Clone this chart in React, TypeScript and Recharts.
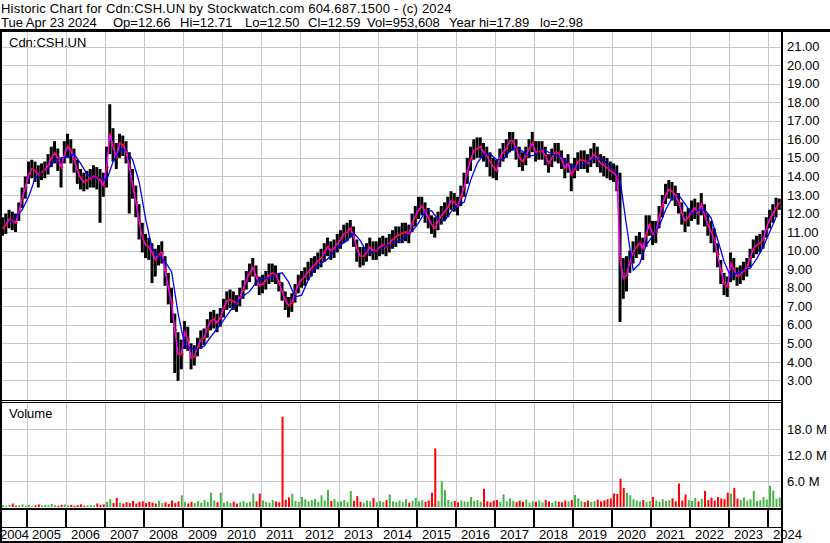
import React from 'react';
import { ComposedChart, Bar, Line, Scatter, XAxis, YAxis, Cell } from 'recharts';

const FONT = '"Liberation Sans", Arial, Helvetica, sans-serif';

// ---------- text ----------
const titleText = 'Historic Chart for Cdn:CSH.UN by Stockwatch.com 604.687.1500 - (c) 2024';
const quoteFields = ['Tue Apr 23 2024', 'Op=12.66', 'Hi=12.71', 'Lo=12.50', 'Cl=12.59', 'Vol=953,608', 'Year hi=17.89', 'lo=2.98'];
const quoteFieldX = [1, 113, 180, 245, 308, 367, 449, 540];
const tickerLabel = 'Cdn:CSH.UN';
const volumeLabel = 'Volume';

// ---------- categories ----------
const yearLabels = ['2004', '2005', '2006', '2007', '2008', '2009', '2010', '2011', '2012', '2013', '2014', '2015', '2016', '2017', '2018', '2019', '2020', '2021', '2022', '2023', '2024'];
const startYear = 2004;
const startMonth = 5; // first monthly bar: May 2004

// ---------- monthly price data (May 2004 .. Apr 2024) ----------
const priceClose = [
  11.2, 11.4, 11.7, 11.6, 11.5, 12.1, 12.8, 13.4,
  14.1, 14.4, 14.3, 14.1, 14.25, 14.35, 14.6, 15.0, 15.25, 15.0, 14.5, 15.2,
  15.6, 15.4, 14.9, 14.3, 13.9, 13.7, 13.8, 13.9, 14.0, 13.9, 13.8, 13.5,
  14.5, 16.3, 15.6, 15.0, 15.8, 15.7, 15.3, 14.5, 13.5, 12.6, 11.6, 10.7,
  10.3, 10.2, 9.9, 9.5, 9.8, 9.9, 8.9, 8.0, 7.2, 5.7, 4.4, 4.4,
  5.6, 5.2, 4.2, 4.3, 4.8, 5.2, 5.3, 5.8, 6.2, 6.3, 6.1, 6.4,
  6.9, 7.3, 7.35, 7.25, 7.15, 7.5, 7.9, 8.4, 8.8, 9.1, 8.6, 8.1,
  8.2, 8.4, 8.7, 8.8, 8.7, 8.3, 7.8, 7.3, 7.05, 7.2, 7.7, 8.2,
  8.45, 8.6, 8.85, 9.05, 9.25, 9.45, 9.6, 9.9, 10.2, 10.0, 10.1, 10.4,
  10.6, 10.9, 11.0, 11.2, 10.8, 10.1, 9.7, 9.7, 9.9, 10.2, 10.0, 10.0,
  10.2, 10.3, 10.2, 10.4, 10.6, 10.75, 10.85, 10.95, 11.0, 10.9, 11.5, 11.85,
  12.2, 12.4, 12.1, 11.75, 11.4, 11.2, 11.6, 11.9, 12.1, 12.35, 12.7, 12.6,
  12.4, 12.9, 13.4, 14.3, 14.9, 15.4, 15.5, 15.6, 15.3, 15.1, 14.8, 14.5,
  14.3, 15.0, 15.3, 15.5, 15.9, 15.9, 15.5, 15.0, 14.8, 15.1, 15.5, 15.8,
  15.3, 15.35, 15.4, 15.1, 14.7, 15.0, 15.3, 15.25, 14.9, 14.45, 14.7, 14.1,
  14.4, 14.8, 14.9, 14.85, 14.7, 15.0, 15.2, 15.0, 14.7, 14.6, 14.45, 14.3,
  14.2, 14.0, 9.5, 8.5, 8.7, 9.4, 9.9, 10.2, 10.4, 10.1, 10.9, 11.4,
  10.9, 11.0, 11.8, 12.4, 13.0, 13.3, 13.2, 13.0, 12.6, 12.0, 11.6, 11.8,
  12.1, 12.3, 12.0, 12.5, 11.9, 11.4, 11.0, 10.6, 9.8, 8.9, 8.2, 8.05,
  9.3, 9.0, 8.6, 8.7, 8.9, 9.1, 9.6, 10.1, 10.3, 10.4, 10.6, 11.2,
  11.7, 12.0, 12.3, 12.59,
];

const priceHigh = [
  11.8, 12.0, 12.2, 12.1, 12.0, 12.6, 13.4, 14.0,
  14.8, 14.9, 14.8, 14.6, 14.7, 14.8, 15.2, 15.6, 15.9, 15.5, 15.0, 15.9,
  16.3, 16.0, 15.5, 14.9, 14.4, 14.2, 14.3, 14.4, 14.6, 14.5, 14.4, 14.2,
  15.6, 17.89, 16.6, 15.8, 16.3, 16.2, 15.9, 15.3, 14.4, 13.5, 12.5, 11.5,
  10.9, 10.7, 10.4, 10.1, 10.3, 10.5, 9.7, 8.8, 8.0, 6.6, 5.6, 5.2,
  6.2, 5.9, 5.0, 4.9, 5.3, 5.7, 5.8, 6.3, 6.7, 6.8, 6.6, 6.9,
  7.4, 7.8, 7.9, 7.8, 7.6, 8.0, 8.4, 8.9, 9.3, 9.6, 9.2, 8.6,
  8.7, 8.9, 9.3, 9.3, 9.2, 8.8, 8.3, 7.8, 7.5, 7.7, 8.2, 8.7,
  8.9, 9.1, 9.4, 9.6, 9.7, 9.9, 10.1, 10.4, 10.7, 10.5, 10.6, 10.9,
  11.1, 11.4, 11.5, 11.65, 11.3, 10.6, 10.2, 10.2, 10.4, 10.7, 10.5, 10.5,
  10.7, 10.8, 10.7, 10.9, 11.1, 11.3, 11.3, 11.5, 11.5, 11.4, 12.0, 12.4,
  12.9, 12.9, 12.6, 12.3, 11.9, 11.8, 12.1, 12.4, 12.6, 12.9, 13.2, 13.1,
  12.9, 13.5, 14.2, 15.0, 15.6, 16.0, 16.1, 16.1, 15.8, 15.6, 15.3, 15.0,
  14.9, 15.5, 15.8, 16.0, 16.4, 16.4, 16.0, 15.6, 15.3, 15.6, 16.0, 16.4,
  15.9, 15.9, 15.9, 15.6, 15.2, 15.5, 15.8, 15.8, 15.4, 15.0, 15.2, 14.7,
  15.0, 15.3, 15.4, 15.4, 15.2, 15.5, 15.8, 15.6, 15.2, 15.1, 15.0, 14.8,
  14.7, 14.6, 14.2, 9.6, 9.7, 10.0, 10.5, 10.8, 11.0, 10.7, 11.9, 11.9,
  11.6, 11.6, 12.4, 13.0, 13.6, 13.8, 13.7, 13.5, 13.1, 12.6, 12.1, 12.3,
  12.7, 12.8, 12.6, 13.1, 12.5, 12.0, 11.6, 11.2, 10.4, 9.5, 8.8, 8.6,
  9.9, 9.6, 9.1, 9.2, 9.4, 9.6, 10.1, 10.6, 10.8, 10.9, 11.1, 11.8,
  12.2, 12.5, 12.85, 12.8,
];

const priceLow = [
  10.8, 10.9, 11.2, 11.1, 11.0, 11.6, 12.3, 12.8,
  13.6, 13.9, 13.7, 13.4, 13.8, 13.9, 14.1, 14.5, 14.7, 14.3, 13.4, 14.7,
  15.0, 14.7, 14.2, 13.6, 13.3, 13.2, 13.3, 13.4, 13.4, 13.3, 11.5, 12.9,
  13.4, 15.2, 14.8, 14.4, 15.0, 15.1, 14.7, 12.0, 12.8, 11.8, 10.6, 9.9,
  9.6, 9.5, 8.25, 8.6, 9.2, 9.3, 8.1, 7.1, 6.1, 3.4, 2.98, 3.6,
  4.7, 4.6, 3.6, 3.8, 4.3, 4.7, 4.9, 5.3, 5.7, 5.8, 5.6, 5.9,
  6.4, 6.8, 6.9, 6.8, 6.7, 7.0, 7.4, 7.9, 8.3, 8.6, 8.1, 7.6,
  7.7, 7.9, 8.2, 8.3, 8.2, 7.8, 7.3, 6.8, 6.4, 6.7, 7.2, 7.7,
  8.0, 8.1, 8.4, 8.6, 8.8, 9.0, 9.1, 9.4, 9.7, 9.5, 9.6, 9.9,
  10.1, 10.4, 10.5, 10.7, 10.2, 9.4, 9.1, 9.2, 9.4, 9.7, 9.5, 9.5,
  9.7, 9.8, 9.7, 9.9, 10.1, 10.2, 10.4, 10.4, 10.5, 10.4, 11.0, 11.3,
  11.7, 11.9, 11.5, 11.2, 10.9, 10.7, 11.1, 11.4, 11.6, 11.8, 12.2, 12.1,
  11.9, 12.4, 12.9, 13.6, 14.3, 14.9, 15.0, 15.0, 14.8, 14.5, 14.0, 13.9,
  13.8, 14.5, 14.8, 15.0, 15.3, 15.4, 14.9, 14.5, 14.3, 14.6, 15.0, 15.3,
  14.8, 14.9, 14.9, 14.6, 14.2, 14.5, 14.8, 14.7, 14.4, 13.9, 14.2, 13.2,
  13.9, 14.3, 14.4, 14.4, 14.2, 14.5, 14.7, 14.5, 14.2, 14.0, 13.9, 13.8,
  13.7, 13.2, 6.15, 7.4, 7.8, 8.8, 9.3, 9.6, 9.8, 9.5, 10.2, 10.8,
  10.3, 10.4, 11.2, 11.8, 12.5, 12.8, 12.7, 12.4, 12.0, 11.4, 11.0, 11.3,
  11.6, 11.7, 11.4, 11.9, 11.3, 10.8, 10.4, 9.9, 9.1, 8.2, 7.6, 7.5,
  8.3, 8.4, 8.1, 8.2, 8.4, 8.6, 9.1, 9.6, 9.8, 9.9, 10.1, 10.7,
  11.2, 11.5, 11.8, 12.2,
];

// long moving average, read every second month (null = not yet started)
const longAvg = [
  null, 11.5, 11.8, 12.2, 12.9, 13.9, 14.25, 14.4, 14.85, 15.0,
  15.05, 15.2, 14.7, 14.1, 13.9, 13.9, 13.8, 14.8, 15.4, 15.4,
  14.9, 13.7, 11.7, 10.1, 9.7, 9.4, 8.85, 6.6, 4.9, 4.7,
  4.7, 4.85, 5.35, 5.8, 6.25, 6.75, 7.2, 7.55, 7.8, 8.3,
  8.5, 8.5, 8.7, 8.8, 8.3, 7.5, 7.6, 8.4, 9.0, 9.3,
  9.55, 9.95, 10.3, 10.55, 10.95, 10.55, 9.95, 9.9, 10.1, 10.25,
  10.4, 10.5, 10.75, 11.05, 11.5, 12.1, 12.15, 11.65, 11.6, 12.1,
  12.45, 12.6, 13.8, 14.7, 15.2, 15.2, 14.9, 14.9, 15.35, 15.55,
  15.35, 15.1, 15.15, 15.5, 15.3, 15.15, 15.05, 14.7, 14.5, 14.55,
  14.8, 14.95, 14.95, 14.7, 14.4, 13.8, 11.3, 8.95, 9.3, 10.3,
  10.8, 11.3, 12.2, 12.85, 13.0, 12.5, 12.0, 12.15, 12.2, 11.75,
  10.6, 9.4, 8.6, 8.8, 8.95, 9.05, 9.55, 10.2, 11.0, 11.8,
];

// monthly volume, millions of shares
const volumeM = [
  0.4, 0.3, 0.5, 0.8, 0.3, 0.4, 0.6, 0.3,
  0.5, 0.3, 0.4, 0.6, 0.3, 0.5, 0.4, 0.7, 0.4, 0.3, 0.5, 0.6,
  0.4, 0.5, 0.3, 0.4, 0.6, 0.3, 0.4, 0.5, 0.3, 0.8, 0.5, 0.6,
  1.2, 1.8, 0.9, 2.1, 1.0, 0.8, 1.1, 0.9, 1.4, 0.8, 1.2, 1.3,
  0.9, 1.2, 1.0, 0.8, 1.4, 0.9, 1.1, 0.7, 1.5, 0.9, 1.3, 2.7,
  1.1, 0.8, 1.2, 0.9, 1.4, 1.0, 1.6, 1.2, 3.3, 1.5, 1.1, 3.3,
  1.0, 1.3, 0.9, 1.2, 0.8, 1.1, 1.4, 1.0, 1.2, 3.1, 1.3, 3.1,
  1.5, 1.2, 1.0, 1.6, 1.3, 1.1, 20.8, 1.7, 2.2, 3.1, 1.4, 1.2,
  2.3, 1.8, 1.3, 1.6, 1.9, 1.2, 2.7, 1.5, 3.9, 1.4, 1.8, 1.2,
  1.3, 1.6, 1.1, 3.7, 1.4, 2.5, 1.2, 1.0, 1.5, 1.3, 2.1, 1.1,
  1.4, 1.2, 1.6, 2.9, 1.3, 1.1, 1.5, 1.2, 1.8, 1.0, 1.4, 2.1,
  1.3, 1.6, 1.2, 1.5, 3.3, 13.5, 1.4, 5.9, 3.9, 1.6, 1.2, 1.4,
  1.1, 1.5, 1.3, 1.2, 2.3, 1.4, 1.6, 1.2, 4.2, 1.3, 1.1, 1.5,
  1.6, 1.2, 2.9, 1.3, 2.0, 1.4, 1.1, 1.5, 1.2, 1.7, 1.0, 1.3,
  1.2, 1.5, 1.1, 1.6, 1.3, 1.0, 1.4, 1.2, 1.1, 1.5, 1.3, 1.6,
  2.8, 2.0, 1.3, 1.1, 1.5, 1.2, 1.4, 1.7, 1.3, 1.5, 1.8, 2.0,
  3.1, 3.0, 6.5, 4.4, 3.3, 2.7, 1.8, 1.5, 1.3, 1.6, 1.2, 1.4,
  2.3, 1.5, 1.2, 1.8, 1.4, 1.6, 2.0, 1.3, 5.4, 1.5, 2.9, 1.6,
  1.4, 2.1, 1.3, 1.9, 3.7, 1.6, 2.2, 1.5, 2.3, 2.0, 1.8, 3.3,
  3.1, 4.4, 1.9, 1.6, 2.2, 1.5, 1.8, 3.7, 1.4, 1.6, 2.3, 1.7,
  4.9, 3.8, 1.9, 2.2,
];

const priceTicks = [3, 4, 5, 6, 7, 8, 9, 10, 11, 12, 13, 14, 15, 16, 17, 18, 19, 20, 21];
const volumeTicks = [6, 12, 18];

// ---------- derived tables ----------
const rows = priceClose.map((close, i) => {
  const t = startMonth - 1 + i;
  return {
    m: i,
    month: `${startYear + Math.floor(t / 12)}-${String((t % 12) + 1).padStart(2, '0')}`,
    close,
    range: [priceLow[i], priceHigh[i]],
    longAvg: i % 2 === 0 ? longAvg[i / 2] : null,
    vol: volumeM[i],
    up: i === 0 || close >= priceClose[i - 1],
  };
});

// boundary between December and January of each year, in month-index units
const yearStarts = yearLabels.map((y) => (Number(y) - startYear) * 12 - (startMonth - 1) - 0.5);
const X_DOMAIN: [number, number] = [-0.2, priceClose.length - 0.2];
const PRICE_DOMAIN: [number, number] = [2, 22];
const VOL_DOMAIN: [number, number] = [0, 24.2];

// plot rectangles (must match the chart margins / axis sizes below)
const PLOT_L = 2;
const PLOT_R = 782;
const PRICE_TOP = 28;
const PRICE_H = 371;
const VOL_TOP = 402;
const VOL_H = 141;
const XAXIS_H = 36;

function lin(v: number, d0: number, d1: number, a: number, b: number): number {
  return a + ((v - d0) / (d1 - d0)) * (b - a);
}

const GRID = '#c8c8c8';
const GREEN = '#46b446';
const RED = '#ff0000';

const RedTick = (props: any) => {
  const { cx, cy } = props;
  if (cx == null || cy == null) return null;
  return <rect x={cx} y={cy - 1} width={2} height={2} fill={RED} />;
};

const YearTick = (props: any) => {
  const { x, y, payload } = props;
  const idx = yearStarts.indexOf(payload.value);
  const label = idx >= 0 ? yearLabels[idx] : '';
  const xi = Math.round(x);
  return (
    <text x={Math.max(xi + 5, 0)} y={y + 32} fontSize={13} fontFamily={FONT} fill="#000" textAnchor="start">
      {label}
    </text>
  );
};

const axisTick = { fill: '#000', fontSize: 13, fontFamily: FONT };

const box = (left: number, top: number, width: number, height: number, color: string, key: string) => (
  <div key={key} style={{ position: 'absolute', left, top, width, height, background: color }} />
);

export default function App() {
  const priceBottom = PRICE_TOP + PRICE_H;
  const volBottom = VOL_TOP + VOL_H - XAXIS_H;
  const yearPx: number[] = [];
  yearStarts.forEach((v) => {
    if (v >= X_DOMAIN[0] && v <= X_DOMAIN[1]) yearPx.push(Math.round(lin(v, X_DOMAIN[0], X_DOMAIN[1], PLOT_L, PLOT_R)));
  });
  const priceRows = priceTicks.map((v) => Math.round(lin(v, PRICE_DOMAIN[0], PRICE_DOMAIN[1], priceBottom, PRICE_TOP)));
  const volRows = volumeTicks.map((v) => Math.round(lin(v, VOL_DOMAIN[0], VOL_DOMAIN[1], volBottom, VOL_TOP)));

  return (
    <div style={{ position: 'fixed', left: 0, top: 0, width: 830, height: 543, background: '#fff', overflow: 'hidden' }}>
      {/* grid layer, beneath the series */}
      {priceRows.map((py, i) => box(PLOT_L, py, PLOT_R - PLOT_L, 1, GRID, `ph${i}`))}
      {volRows.map((py, i) => box(PLOT_L, py, PLOT_R - PLOT_L, 1, GRID, `vh${i}`))}
      {yearPx.map((px, i) => box(px, 32, 1, 368, GRID, `pv${i}`))}
      {yearPx.map((px, i) => box(px, 403, 1, 105, GRID, `vv${i}`))}

      {/* price panel */}
      <div style={{ position: 'absolute', left: 0, top: PRICE_TOP }}>
        <ComposedChart width={830} height={PRICE_H} data={rows} margin={{ top: 0, right: 0, bottom: 0, left: PLOT_L }}>
          <XAxis type="number" dataKey="m" domain={X_DOMAIN} allowDataOverflow hide />
          <YAxis
            orientation="right"
            width={830 - PLOT_R}
            domain={PRICE_DOMAIN}
            ticks={priceTicks}
            allowDataOverflow
            interval={0}
            axisLine={false}
            tickLine={false}
            tickSize={0}
            tickMargin={5}
            tick={axisTick}
            tickFormatter={(v: number) => v.toFixed(2)}
          />
          <Bar dataKey="range" fill="#000" barSize={3} isAnimationActive={false} />
          <Scatter dataKey="close" shape={RedTick} isAnimationActive={false} />
          <Line type="linear" dataKey="close" stroke="#ff00ff" strokeWidth={1.5} dot={false} isAnimationActive={false} />
          <Line type="linear" dataKey="longAvg" stroke="#0000ff" strokeWidth={1.3} dot={false} connectNulls isAnimationActive={false} />
        </ComposedChart>
      </div>

      {/* volume panel */}
      <div style={{ position: 'absolute', left: 0, top: VOL_TOP }}>
        <ComposedChart width={830} height={VOL_H} data={rows} margin={{ top: 0, right: 0, bottom: 0, left: PLOT_L }}>
          <XAxis
            type="number"
            dataKey="m"
            domain={X_DOMAIN}
            ticks={yearStarts}
            allowDataOverflow
            interval={0}
            height={XAXIS_H}
            axisLine={false}
            tickLine={false}
            tickSize={0}
            tickMargin={0}
            tick={<YearTick />}
          />
          <YAxis
            orientation="right"
            width={830 - PLOT_R}
            domain={VOL_DOMAIN}
            ticks={volumeTicks}
            allowDataOverflow
            interval={0}
            axisLine={false}
            tickLine={false}
            tickSize={0}
            tickMargin={5}
            tick={axisTick}
            tickFormatter={(v: number) => `${v.toFixed(1)} M`}
          />
          <Bar dataKey="vol" barSize={2} isAnimationActive={false}>
            {rows.map((r, i) => (
              <Cell key={i} fill={r.up ? GREEN : RED} />
            ))}
          </Bar>
        </ComposedChart>
      </div>

      {/* frame */}
      {box(0, 0, 830, 29, '#fff', 'hdrbg')}
      {box(0, 29, 830, 3, '#000', 'hdrline')}
      {box(0, 29, 2, 514, '#000', 'left')}
      {box(781, 29, 2, 514, '#000', 'right')}
      {box(0, 400, 783, 1, '#000', 'pb1')}
      {box(0, 402, 783, 1, '#000', 'pb2')}
      {box(0, 508, 783, 2, '#000', 'vb')}
      {yearPx.map((px, i) => box(px - 1, 510, 2, 17, '#000', `sep${i}`))}
      {box(0, 527, 783, 1, '#000', 'rowline')}
      {box(0, 541, 783, 2, '#000', 'bottom')}

      {/* header and panel labels */}
      <svg width={830} height={543} style={{ position: 'absolute', left: 0, top: 0, pointerEvents: 'none' }}>
        <text x={1} y={13} fontSize={13} fontFamily={FONT} fill="#000" letterSpacing={0.2}>
          {titleText}
        </text>
        {quoteFields.map((f, i) => (
          <text key={f} x={quoteFieldX[i]} y={27} fontSize={13} fontFamily={FONT} fill="#000">
            {f}
          </text>
        ))}
        <text x={9} y={47} fontSize={13} fontFamily={FONT} fill="#000">{tickerLabel}</text>
        <text x={9} y={418} fontSize={13} fontFamily={FONT} fill="#000">{volumeLabel}</text>
      </svg>
    </div>
  );
}
